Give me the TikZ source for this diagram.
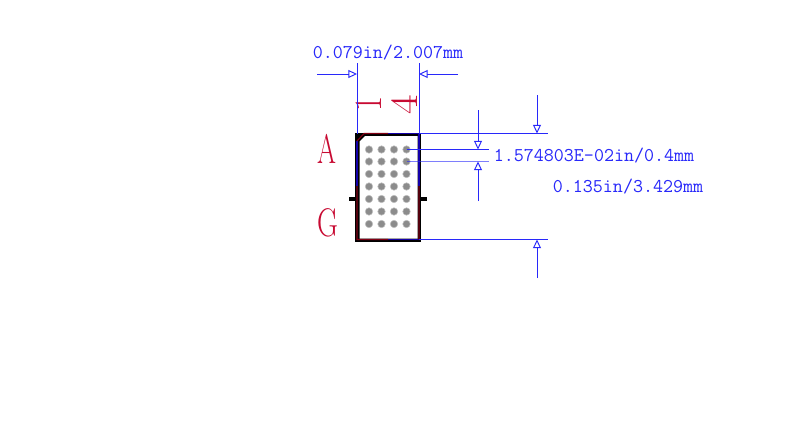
\documentclass[tikz,border=0pt]{standalone}
\usepackage{tikz}
\usetikzlibrary{arrows.meta}
\definecolor{dimblue}{RGB}{40,40,250}
\definecolor{silkred}{RGB}{200,10,50}
\definecolor{edgered}{RGB}{130,0,20}
\definecolor{edgeblue}{RGB}{20,0,170}
\tikzset{
    dimline/.style = {draw = dimblue, line width = 0.7pt},
    dimarrow/.style = {dimline, -{Triangle[open, length = 6.5pt, width = 6pt]}},
    dimtext/.style = {text = dimblue, inner sep = 0pt, font = \fontsize{14.6}{15}\selectfont\ttfamily},
    silktext/.style = {text = silkred, inner sep = 0pt},
    ball/.style = {circle, fill = gray!90, draw = gray!50, line width = 0.4pt, minimum size = 5.6pt, inner sep = 0pt}
}
\begin{document}
\begin{tikzpicture}[x = 0.75pt, y = -0.75pt]
    \useasboundingbox (0,0) rectangle (800,436);
    \fill [white] (0,0) rectangle (800,436);

    % package body
    \coordinate (nw) at (357,133.5);
    \coordinate (ne) at (419,133.5);
    \coordinate (sw) at (357,239.5);
    \coordinate (se) at (419,239.5);
    \fill [black] (355,133) rectangle (421,241.5);
    \fill [white] (359.5,141.5) -- (365,136) -- (417.5,136) -- (417.5,238.5) -- (359.5,238.5) -- cycle;
    \fill [black] (349,197) rectangle (356,201);
    \fill [black] (421,197) rectangle (427,201);
    \draw [edgeblue, line width = 0.8pt] (357,186) -- (357,141) (388,133.5) -- (ne) -- (419,186) (388,239.5) -- (se);
    \draw [edgered, line width = 0.8pt] (388,133.5) -- (364,133.5) -- (357,141) (357,186) -- (sw) -- (388,239.5) (419,186) -- (se);

    \foreach \x in {369,381.5,394,406.5} {
        \foreach \y in {149.5,161.5,174,186.5,199,211.5,224} {
            \node [ball] at (\x,\y) {};
        }
    }

    % pin labels
    \node [silktext, font = \fontsize{31}{31}\selectfont] (pinA) at (327,148.5) {\scalebox{0.66}[1]{A}};
    \node [silktext, font = \fontsize{30}{30}\selectfont] (pinG) at (327.5,223) {\scalebox{0.72}[1]{G}};
    \node [silktext, rotate = 90, font = \fontsize{29}{29}\selectfont] (pinOne) at (368.5,103.5) {\scalebox{0.85}[1]{1}};
    \node [silktext, rotate = 90, font = \fontsize{29}{29}\selectfont] (pinFour) at (405,104.5) {\scalebox{1.1}[1]{4}};

    % width
    \coordinate (wl) at (357,74);
    \coordinate (wr) at (419,74);
    \draw [dimline] (nw) -- (357,63);
    \draw [dimline] (ne) -- (419,63);
    \draw [dimarrow] (317,74) -- (wl);
    \draw [dimarrow] (458,74) -- (wr);
    \node [dimtext] (widthlabel) at (388,53) {0.079in/2.007mm};

    % height
    \coordinate (ht) at (537,133.5);
    \coordinate (hb) at (537,239.5);
    \draw [dimline] (ne) -- (548,133.5);
    \draw [dimline] (se) -- (548,239.5);
    \draw [dimarrow] (537,95) -- (ht);
    \draw [dimarrow] (537,278) -- (hb);
    \node [dimtext] (heightlabel) at (628,187) {0.135in/3.429mm};

    % pitch
    \coordinate (pt) at (478,149.5);
    \coordinate (pb) at (478,161.5);
    \draw [dimline] (406.5,149.5) -- (489,149.5);
    \draw [dimline, draw opacity = 0.6] (406.5,161.5) -- (489,161.5);
    \draw [dimarrow] (478,110) -- (pt);
    \draw [dimarrow] (478,201) -- (pb);
    \node [dimtext] (pitchlabel) at (594,156) {1.574803E-02in/0.4mm};
\end{tikzpicture}
\end{document}
